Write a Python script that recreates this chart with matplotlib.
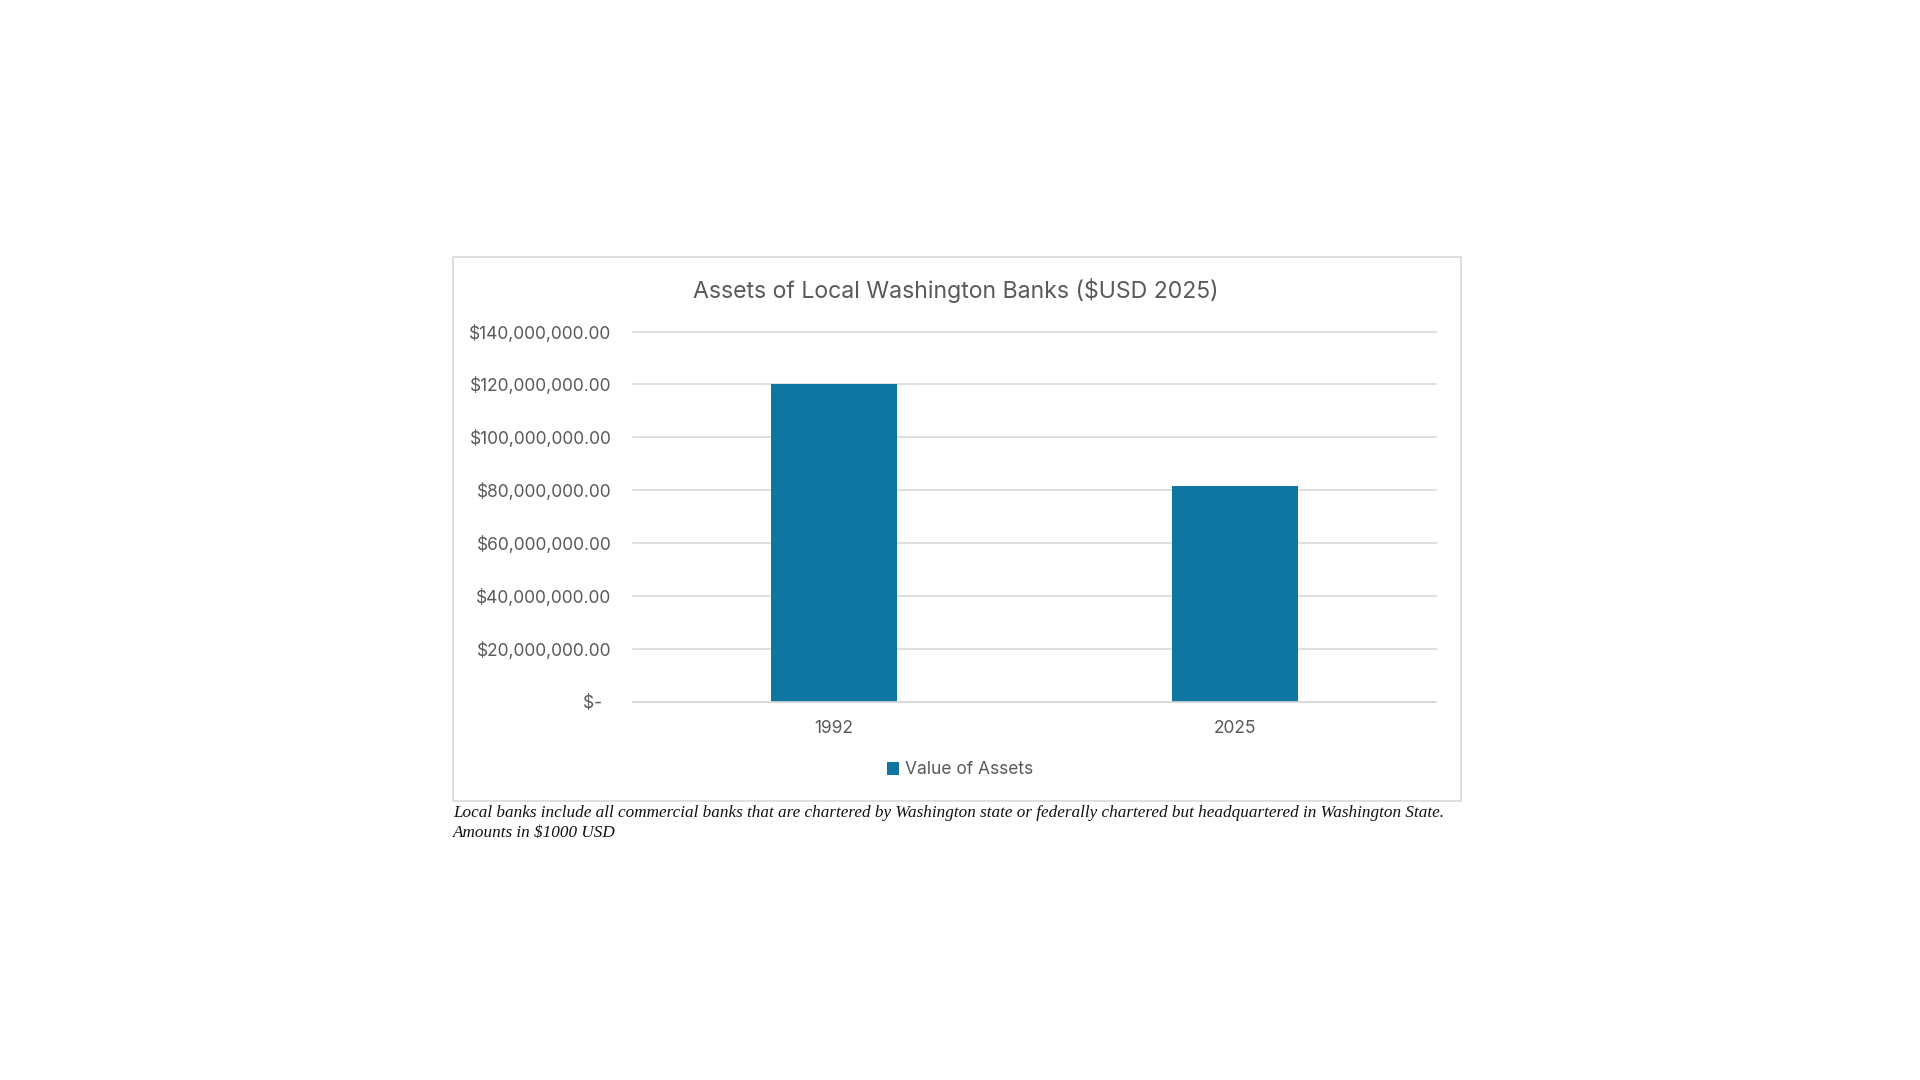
import matplotlib
matplotlib.use('Agg')
import matplotlib.pyplot as plt
from matplotlib.patches import Rectangle
from matplotlib.ticker import FuncFormatter, MultipleLocator

years = ['1992', '2025']
assets = [120200000, 81500000]
series_name = 'Value of Assets'
title = 'Assets of Local Washington Banks ($USD 2025)'
note = ('Local banks include all commercial banks that are chartered by Washington state '
        'or federally chartered but headquartered in Washington State.\nAmounts in $1000 USD')

bar_color = '#0E76A1'
text_color = '#595959'
grid_color = '#D9D9D9'
plt.rcParams['font.family'] = ['Inter', 'DejaVu Sans']

fig = plt.figure(figsize=(19.2, 10.8), dpi=100)

# chart frame
fig.patches.append(Rectangle((453 / 1920, 1 - 801 / 1080), 1008 / 1920, 544 / 1080,
                             transform=fig.transFigure, fill=False,
                             edgecolor=grid_color, linewidth=1.2))

ax = fig.add_axes([633 / 1920, 1 - 701.5 / 1080, 803 / 1920, 370 / 1080])
ax.bar(range(len(years)), assets, width=0.313, color=bar_color,
       label=series_name, zorder=3)

ax.set_xlim(-0.5, 1.5)
ax.set_ylim(0, 140000000)
ax.yaxis.set_major_locator(MultipleLocator(20000000))


def money(v, pos):
    if v == 0:
        return '$-  '
    return '${:,.2f}'.format(v)


ax.yaxis.set_major_formatter(FuncFormatter(money))
ax.set_xticks(range(len(years)))
ax.set_xticklabels(years)
ax.tick_params(axis='both', length=0, labelsize=12.5, labelcolor=text_color)
ax.tick_params(axis='y', pad=15.5)
ax.tick_params(axis='x', pad=13)

for s in ['top', 'right', 'left']:
    ax.spines[s].set_visible(False)
ax.spines['bottom'].set_color(grid_color)
ax.spines['bottom'].set_linewidth(1.2)
ax.spines['bottom'].set_zorder(4)

ax.grid(axis='y', color=grid_color, linewidth=1.2, zorder=0)
for gl in ax.yaxis.get_gridlines():
    gl.set_clip_on(False)

fig.text(956 / 1920, 1 - 290 / 1080, title, ha='center', va='center',
         fontsize=16.6, color=text_color)

fig.legend(loc='center', bbox_to_anchor=(960 / 1920, 1 - 770 / 1080),
           frameon=False, fontsize=12.5, labelcolor=text_color,
           handlelength=0.7, handleheight=0.7, handletextpad=0.35)

fig.text(453 / 1920, 1 - 805 / 1080, note, ha='left', va='top',
         fontsize=12.35, style='italic', family='Liberation Serif',
         color='#111111', linespacing=1.32)

fig.savefig('out.png', dpi=100, facecolor='white')
